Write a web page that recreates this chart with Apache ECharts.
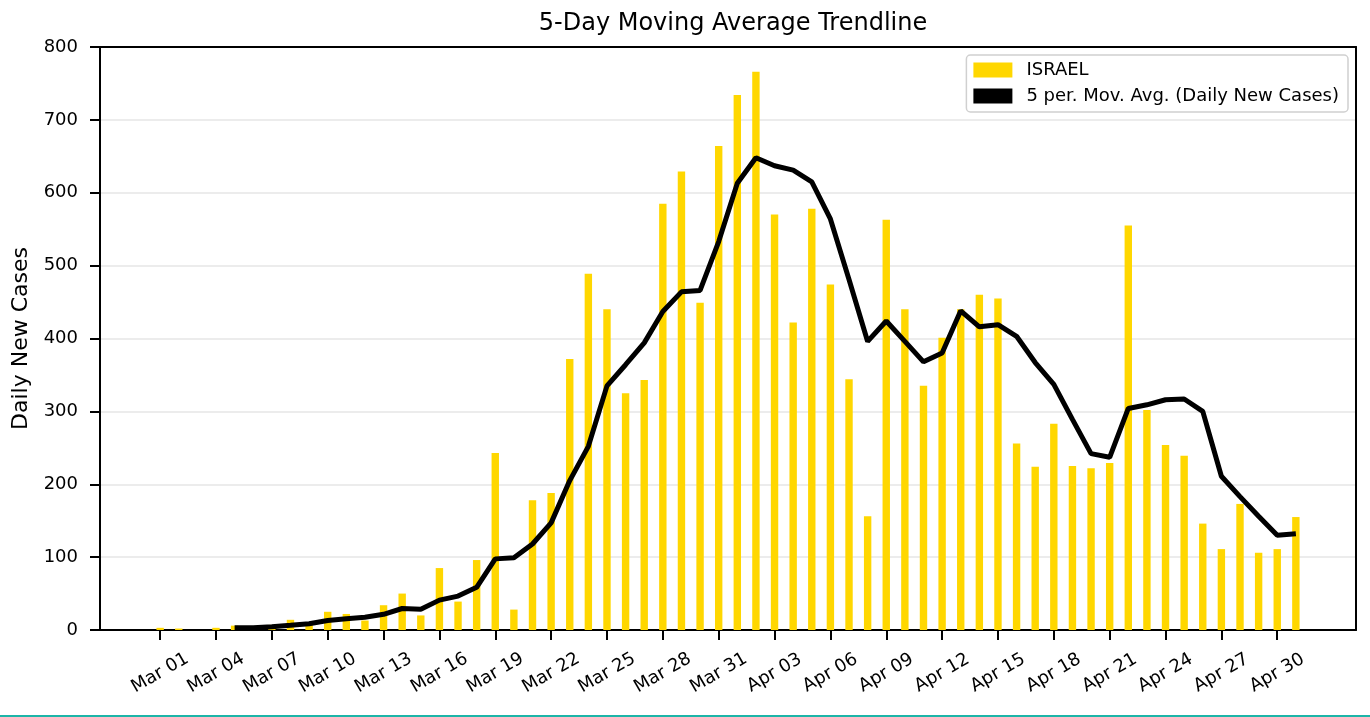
<!DOCTYPE html>
<html>
<head>
<meta charset="utf-8">
<script src="https://cdn.jsdelivr.net/npm/echarts@6/dist/echarts.min.js"></script>
<style>
  html, body { margin: 0; padding: 0; background: #fff; }
  #chart { width: 1370px; height: 717px; }
</style>
</head>
<body>
<div id="chart"></div>
<script>
// days from Mar 01 to May 01
const dates = [
  "Mar 01", "Mar 02", "Mar 03", "Mar 04", "Mar 05", "Mar 06", "Mar 07", "Mar 08", "Mar 09", "Mar 10",
  "Mar 11", "Mar 12", "Mar 13", "Mar 14", "Mar 15", "Mar 16", "Mar 17", "Mar 18", "Mar 19", "Mar 20",
  "Mar 21", "Mar 22", "Mar 23", "Mar 24", "Mar 25", "Mar 26", "Mar 27", "Mar 28", "Mar 29", "Mar 30",
  "Mar 31", "Apr 01", "Apr 02", "Apr 03", "Apr 04", "Apr 05", "Apr 06", "Apr 07", "Apr 08", "Apr 09",
  "Apr 10", "Apr 11", "Apr 12", "Apr 13", "Apr 14", "Apr 15", "Apr 16", "Apr 17", "Apr 18", "Apr 19",
  "Apr 20", "Apr 21", "Apr 22", "Apr 23", "Apr 24", "Apr 25", "Apr 26", "Apr 27", "Apr 28", "Apr 29",
  "Apr 30", "May 01"
];

const dailyCases = [
  3, 2, 0, 3, 6, 3, 7, 14, 9, 25,
  22, 13, 34, 50, 20, 85, 39, 96, 243, 28,
  178, 188, 372, 489, 440, 325, 343, 585, 629, 449,
  664, 734, 766, 570, 422, 578, 474, 344, 156, 563,
  440, 335, 401, 440, 460, 455, 256, 224, 283, 225,
  222, 229, 555, 302, 254, 239, 146, 111, 173, 106,
  111, 155
];

// 5-day moving average as drawn (starts on Mar 05)
const movAvg = [
  null, null, null, null, 3, 3, 4.6, 6.4, 8.7, 13,
  15.5, 17.4, 21.5, 29.5, 28.4, 41, 46.5, 58.6, 97.6, 99,
  118, 147, 205, 252, 335, 364, 394, 437, 464, 466,
  533, 613, 648, 637, 631, 615, 564, 481, 396, 424,
  396, 368, 380, 438, 416, 419, 403, 367, 337, 289,
  242, 237, 304, 309, 316, 317, 300, 211, 183, 156,
  130, 132
];

// every third day gets a tick label
const tickDays = [0, 3, 6, 9, 12, 15, 18, 21, 24, 27, 30, 33, 36, 39, 42, 45, 48, 51, 54, 57, 60];

const font = "DejaVu Sans";
const spine = { show: true, onZero: false, lineStyle: { color: "#000", width: 2 } };

const chart = echarts.init(document.getElementById("chart"));
chart.setOption({
  animation: false,
  textStyle: { fontFamily: font, color: "#000" },
  title: {
    text: "5-Day Moving Average Trendline",
    left: 728,
    textAlign: "center",
    top: 7,
    textStyle: { fontFamily: font, fontSize: 24, fontWeight: "normal", color: "#000" }
  },
  grid: {
    left: 100, right: 14, top: 47, bottom: 87
  },
  legend: {
    orient: "vertical",
    right: 22,
    top: 55,
    padding: [6, 9, 7, 7],
    itemGap: 8,
    itemWidth: 39,
    itemHeight: 15,
    backgroundColor: "#fff",
    borderColor: "#d0d0d0",
    borderWidth: 1.5,
    borderRadius: 4,
    textStyle: { fontFamily: font, fontSize: 18, color: "#000", padding: [0, 0, 0, 9] },
    data: [
      { name: "ISRAEL", icon: "rect" },
      { name: "5 per. Mov. Avg. (Daily New Cases)", icon: "rect" }
    ]
  },
  xAxis: [
    {
      type: "value",
      min: -3.23,
      max: 64.23,
      axisLine: spine,
      axisTick: { show: true, customValues: tickDays, length: 10, lineStyle: { color: "#000", width: 2 } },
      axisLabel: {
        customValues: tickDays,
        rotate: 30,
        align: "center",
        verticalAlign: "middle",
        margin: 43,
        fontFamily: font,
        fontSize: 18,
        color: "#000",
        formatter: (v) => dates[Math.round(v)]
      },
      splitLine: { show: false }
    },
    {
      // top spine only
      type: "value",
      position: "top",
      min: -3.23,
      max: 64.23,
      axisLine: spine,
      axisTick: { show: false },
      axisLabel: { show: false },
      splitLine: { show: false }
    }
  ],
  yAxis: [
    {
      type: "value",
      min: 0,
      max: 800,
      interval: 100,
      name: "Daily New Cases",
      nameLocation: "middle",
      nameGap: 67,
      nameTextStyle: { fontFamily: font, fontSize: 22, color: "#000" },
      axisLine: spine,
      axisTick: { show: true, length: 10, lineStyle: { color: "#000", width: 2 } },
      axisLabel: { fontFamily: font, fontSize: 18, color: "#000", margin: 22 },
      splitLine: { show: true, lineStyle: { color: "#e6e6e6", width: 1.5 } }
    },
    {
      // right spine only
      type: "value",
      position: "right",
      min: 0,
      max: 800,
      interval: 100,
      axisLine: spine,
      axisTick: { show: false },
      axisLabel: { show: false },
      splitLine: { show: false }
    }
  ],
  series: [
    {
      name: "ISRAEL",
      type: "bar",
      barWidth: 7.4,
      itemStyle: { color: "#FFD700" },
      data: dailyCases.map((v, i) => [i, v]),
      z: 2
    },
    {
      name: "5 per. Mov. Avg. (Daily New Cases)",
      type: "line",
      symbol: "none",
      color: "#000",
      lineStyle: { color: "#000", width: 5 },
      data: movAvg.map((v, i) => [i, v]),
      z: 3
    }
  ],
  graphic: [
    {
      type: "rect",
      left: 0,
      top: 715,
      shape: { width: 1370, height: 2 },
      style: { fill: "#1cb5a8" },
      silent: true
    }
  ]
});
</script>
</body>
</html>
